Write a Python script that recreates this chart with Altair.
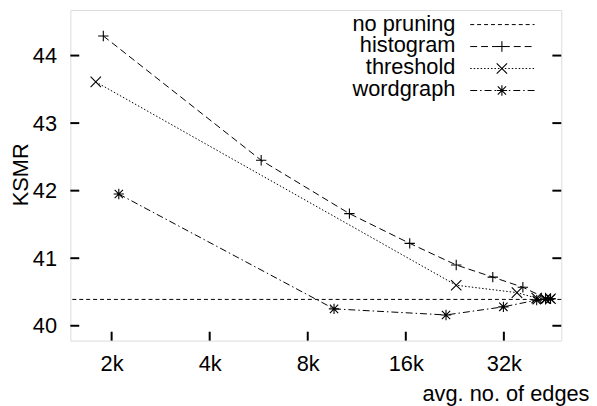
import altair as alt
import pandas as pd

# ---- data ----
hist_x = [1886, 5756, 10740, 16450, 22850, 29590, 36600, 42960, 44500]
hist_y = [44.29, 42.45, 41.66, 41.22, 40.90, 40.72, 40.57, 40.41, 40.40]

thr_x = [1788, 22850, 35100, 40360, 42960, 44500]
thr_y = [43.61, 40.60, 40.49, 40.41, 40.40, 40.40]

wg_x = [2104, 9634, 21260, 31890, 40360, 42960, 44500]
wg_y = [41.95, 40.25, 40.16, 40.28, 40.38, 40.39, 40.40]

no_pruning = 40.39

x_ticks = [2000, 4000, 8000, 16000, 32000]
y_ticks = [40, 41, 42, 43, 44]

legend_labels = ["no pruning", "histogram", "threshold", "wordgraph"]

# ---- styling ----
W, H = 496, 334
FONT = "Liberation Sans"
FS = 22
PLUS = "M-1,0L1,0M0,-1L0,1"
CROSS = "M-1,-1L1,1M-1,1L1,-1"
STAR = "M-1,0L1,0M0,-1L0,1M-0.8,-0.8L0.8,0.8M-0.8,0.8L0.8,-0.8"

xscale = alt.Scale(type="log", base=2, domain=[1494, 48020], nice=False)
yscale = alt.Scale(domain=[39.78, 44.674], nice=False, zero=False)

xaxis = alt.Axis(values=x_ticks, labelExpr="datum.value / 1000 + 'k'",
                 ticks=False, tickSize=0, domain=False, grid=False,
                 labelFontSize=FS, labelFont=FONT, labelPadding=13, labelColor="black",
                 title="avg. no. of edges", titleFontSize=FS, titleFont=FONT,
                 titleFontWeight="normal", titleColor="black",
                 titleAlign="right", titleBaseline="alphabetic", titleX=524, titleY=60)
yaxis = alt.Axis(values=y_ticks, ticks=False, tickSize=0, domain=False, grid=False,
                 labelFontSize=FS, labelFont=FONT, labelPadding=14, labelColor="black",
                 title="KSMR", titleFontSize=FS, titleFont=FONT,
                 titleFontWeight="normal", titleColor="black",
                 titleAngle=270, titleAlign="center", titleBaseline="alphabetic",
                 titleX=-43, titleY=166)


def X(f):
    return alt.X(f, type="quantitative", scale=xscale, axis=xaxis)


def Y(f):
    return alt.Y(f, type="quantitative", scale=yscale, axis=yaxis)


layers = []

# no pruning reference line
layers.append(
    alt.Chart(pd.DataFrame({"y": [no_pruning]}))
    .mark_rule(color="black", strokeWidth=1, strokeDash=[4, 3])
    .encode(y=Y("y"))
)

series = [
    (hist_x, hist_y, [7, 4], PLUS),
    (thr_x, thr_y, [1.5, 2], CROSS),
    (wg_x, wg_y, [7, 3, 1.5, 3], STAR),
]
for xs, ys, dash, shape in series:
    df = pd.DataFrame({"x": xs, "y": ys})
    base = alt.Chart(df)
    layers.append(base.mark_line(color="black", strokeWidth=1, strokeDash=dash)
                  .encode(x=X("x"), y=Y("y")))
    layers.append(base.mark_point(shape=shape, filled=False, stroke="black",
                                  strokeWidth=1.1, size=110, opacity=1)
                  .encode(x=X("x"), y=Y("y")))

# inward tick marks (left, right, bottom)
ydf = pd.DataFrame({"v": y_ticks})
xdf = pd.DataFrame({"v": x_ticks})
layers.append(alt.Chart(ydf).mark_rule(color="black", strokeWidth=2)
              .encode(y=Y("v"), x=alt.value(0), x2=alt.value(9)))
layers.append(alt.Chart(ydf).mark_rule(color="black", strokeWidth=2)
              .encode(y=Y("v"), x=alt.value(W - 9), x2=alt.value(W)))
layers.append(alt.Chart(xdf).mark_rule(color="black", strokeWidth=2)
              .encode(x=X("v"), y=alt.value(H - 9), y2=alt.value(H)))

# legend (inside top-right)
rows = [14.7, 36.9, 59.1, 81.3]
dashes = [[4, 3], [7, 4], [1.5, 2], [7, 3, 1.5, 3]]
shapes = [None, PLUS, CROSS, STAR]
one = pd.DataFrame({"a": [0]})
for lab, ry, dash, shape in zip(legend_labels, rows, dashes, shapes):
    layers.append(alt.Chart(one).mark_text(align="right", baseline="middle",
                                           font=FONT, fontSize=FS, color="black")
                  .encode(x=alt.value(389), y=alt.value(ry - 1), text=alt.value(lab)))
    layers.append(alt.Chart(one).mark_rule(color="black", strokeWidth=1, strokeDash=dash)
                  .encode(x=alt.value(404), x2=alt.value(469), y=alt.value(ry)))
    if shape:
        layers.append(alt.Chart(one).mark_point(shape=shape, filled=False, stroke="black",
                                                strokeWidth=1.1, size=110, opacity=1)
                      .encode(x=alt.value(436), y=alt.value(ry)))

chart = (
    alt.layer(*layers)
    .properties(width=W, height=H,
                autosize=alt.AutoSizeParams(type="none"),
                padding={"left": 63, "top": 0, "right": 28, "bottom": 64})
    .configure_view(stroke="black", strokeWidth=2)
    .configure(font=FONT)
)

chart.save("out.html", embed_options={"renderer": "svg", "actions": False})
